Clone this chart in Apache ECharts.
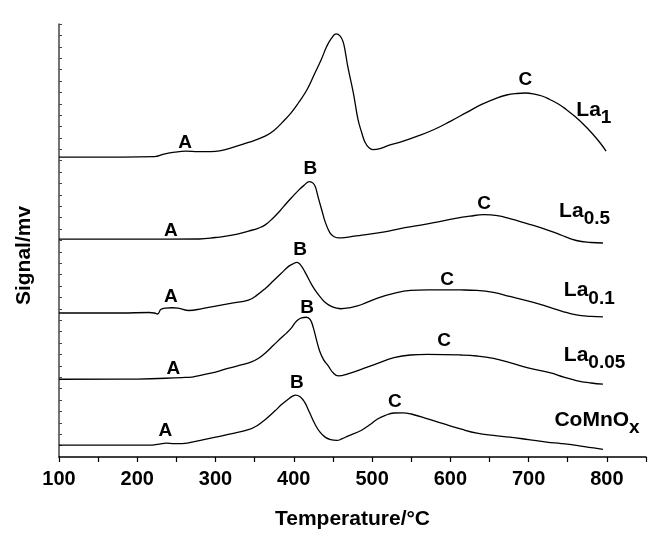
<!DOCTYPE html>
<html style="height: 100%">
<head>
    <meta charset="utf-8">
</head>
<body style="height: 100%; margin: 0; background: #fff">
    <div id="container" style="width: 649px; height: 535px"></div>
    <script src="https://cdn.jsdelivr.net/npm/echarts@6.0.0/dist/echarts.min.js"></script>
    <script>
        // TPR curves, signal in arbitrary units (curves offset vertically)
        const la1 = [
            [100, 302], [180, 302], [222, 302.5], [234, 305], [248, 307], [262, 308], [278, 307.5],
            [294, 307.5], [308, 308.7], [321, 311.5], [342, 316.7], [364, 323.3], [375, 329],
            [385, 336.7], [396, 346], [406, 356.7], [417, 370], [427, 386.7], [435, 400],
            [442, 413.3], [448, 421.5], [454, 426], [459, 424], [463, 418], [466, 407], [469, 393],
            [476, 367], [482, 340], [487, 326], [491, 317], [496, 311.5], [501, 309.5], [510, 310.5],
            [522, 314], [536, 317], [558, 323], [580, 330], [600, 338], [621, 347], [640, 355],
            [660, 361.7], [672, 364.5], [685, 366], [696, 366.5], [706, 365.7], [717, 363.5],
            [727, 360], [738, 355.5], [748, 350], [759, 343], [770, 335], [781, 326], [791, 316.7],
            [799, 308]
        ];
        const la05 = [
            [100, 219.3], [200, 219.3], [279, 219.5], [300, 221], [321, 223.3], [342, 227.5],
            [355, 230.5], [364, 234], [374, 241], [382, 247.5], [389, 254], [397, 261], [406, 268.5],
            [413, 273.5], [420, 277.3], [425, 275.5], [428, 271], [431, 262], [436, 248], [440, 237],
            [446, 226], [451, 222], [457, 220.7], [470, 221.5], [487, 223.5], [516, 226.7],
            [536, 230], [558, 233], [579, 236], [605, 240], [625, 242.5], [643, 244], [660, 243],
            [676, 240], [698, 235], [719, 230], [740, 224], [761, 218], [780, 216], [795, 215.5]
        ];
        const la01 = [
            [100, 145], [180, 145], [215, 145.5], [222, 145], [226, 144], [230, 148.5], [236, 150],
            [245, 150.3], [252, 150], [266, 147.5], [283, 149.5], [300, 152], [321, 155], [342, 158],
            [353, 163], [364, 170], [374, 177.5], [384, 185], [393, 191.7], [399, 194.5], [404, 196],
            [409, 193], [414, 186.7], [423, 173.3], [429, 166], [435, 160], [441, 155], [448, 151.7],
            [455, 149.8], [460, 149.3], [472, 150.5], [486, 153.3], [507, 160], [529, 165],
            [549, 167.7], [571, 168.3], [592, 168.3], [613, 168.2], [634, 167.7], [655, 165.7],
            [676, 161.7], [700, 157], [723, 151.7], [742, 147], [761, 143], [780, 141.5], [795, 141]
        ];
        const la005 = [
            [100, 78.3], [200, 78.5], [257, 80], [270, 80.5], [285, 83], [300, 85.5], [317, 89.5],
            [334, 93], [345, 95.5], [355, 99.5], [364, 105], [374, 112.5], [384, 120], [391, 125],
            [397, 130], [402, 135.5], [406, 138.5], [410, 140], [416, 140.7], [421, 138.3],
            [425, 130], [429, 118], [433, 106.7], [438, 98], [444, 91.7], [450, 85], [457, 81.7],
            [470, 84], [486, 88.3], [507, 94.3], [528, 100], [549, 102.7], [571, 103.3],
            [613, 102.7], [634, 101.7], [655, 99.3], [676, 95], [698, 90], [727, 85], [745, 80.5],
            [761, 77], [780, 74.5], [795, 73.3]
        ];
        const comnox = [
            [100, 12], [180, 12], [215, 12], [228, 13], [237, 14], [247, 13.5], [257, 13.5],
            [270, 15], [285, 17.5], [300, 20], [321, 23.5], [342, 27.5], [353, 31.5], [364, 38],
            [376, 46.5], [384, 52.5], [393, 58.3], [398, 61], [402, 62.3], [408, 60.7], [414, 55],
            [420, 45], [427, 33.3], [433, 25.5], [440, 20], [447, 17.5], [455, 16.7], [462, 18.5],
            [469, 21], [486, 26.7], [497, 32.5], [507, 38.3], [517, 42], [528, 44.3], [539, 44.5],
            [550, 43.3], [571, 38.5], [592, 33.3], [613, 28.3], [634, 24], [655, 21.7], [676, 20],
            [700, 17.5], [723, 15], [742, 13.5], [761, 11.7], [780, 9.5], [795, 7.7]
        ];

        const curves = [la1, la05, la01, la005, comnox];
        const curveNames = ['La1', 'La0.5', 'La0.1', 'La0.05', 'CoMnOx'];
        const curveTitles = [['La', '1'], ['La', '0.5'], ['La', '0.1'], ['La', '0.05'], ['CoMnO', 'x']];
        // where the sample name starts (temperature, signal)
        const titleAnchors = [[761, 346], [739, 244], [745, 164], [745, 99], [733, 34]];
        // peak letters: [temperature, signal, letter]
        const peakMarks = [
            [[261, 316, 'A'], [455, 438, 'B'], [696, 380, 'C']],
            [[243, 228, 'A'], [421, 290, 'B'], [643, 255, 'C']],
            [[243, 161, 'A'], [408, 209, 'B'], [596, 178, 'C']],
            [[246, 89, 'A'], [417, 150, 'B'], [592, 117, 'C']],
            [[236, 26, 'A'], [404, 75, 'B'], [529, 56, 'C']]
        ];

        const font = 'Liberation Sans, Arial, sans-serif';
        const dom = document.getElementById('container');
        const myChart = echarts.init(dom, null, { renderer: 'canvas' });

        const option = {
            animation: false,
            grid: {
                left: 59,
                right: 0,
                top: 24,
                bottom: 75
            },
            xAxis: {
                type: 'value',
                min: 100,
                max: 850,
                interval: 50,
                name: 'Temperature/°C',
                nameLocation: 'middle',
                nameGap: 52,
                nameTextStyle: {
                    color: '#000',
                    fontFamily: font,
                    fontWeight: 'bold',
                    fontSize: 21
                },
                axisLine: {
                    show: true,
                    lineStyle: { color: '#000', width: 1.5 }
                },
                axisTick: {
                    show: true,
                    inside: false,
                    length: 5,
                    lineStyle: { color: '#000', width: 1.2 }
                },
                axisLabel: {
                    color: '#000',
                    fontFamily: font,
                    fontWeight: 'bold',
                    fontSize: 20,
                    margin: 12,
                    formatter: function (v) {
                        return (v % 100 === 0 && v <= 800) ? String(v) : '';
                    }
                },
                splitLine: { show: false }
            },
            yAxis: {
                type: 'value',
                min: 0,
                max: 436,
                interval: 436 / 38,
                name: 'Signal/mv',
                nameLocation: 'middle',
                nameRotate: 90,
                nameGap: 24,
                nameTextStyle: {
                    color: '#000',
                    fontFamily: font,
                    fontWeight: 'bold',
                    fontSize: 21,
                    padding: [0, 30, 0, 0]
                },
                axisLine: {
                    show: true,
                    lineStyle: { color: '#444', width: 1.5 }
                },
                axisTick: {
                    show: true,
                    inside: true,
                    length: 3,
                    lineStyle: { color: '#444', width: 1 }
                },
                axisLabel: { show: false },
                splitLine: { show: false }
            },
            series: curves.map((curve, i) => ({
                name: curveNames[i],
                type: 'line',
                data: curve,
                showSymbol: false,
                smooth: 0.45,
                lineStyle: { color: '#000', width: 1.3 },
                silent: true,
                markPoint: {
                    symbol: 'circle',
                    symbolSize: 0,
                    silent: true,
                    data: peakMarks[i].map(p => ({
                        coord: [p[0], p[1]],
                        name: p[2],
                        label: {
                            show: true,
                            position: 'inside',
                            formatter: '{b}',
                            color: '#000',
                            fontFamily: font,
                            fontWeight: 'bold',
                            fontSize: 19
                        }
                    })).concat([{
                        coord: titleAnchors[i],
                        name: curveNames[i],
                        label: {
                            show: true,
                            position: 'right',
                            distance: 0,
                            formatter: '{m|' + curveTitles[i][0] + '}{s|' + curveTitles[i][1] + '}',
                            rich: {
                                m: {
                                    color: '#000',
                                    fontFamily: font,
                                    fontWeight: 'bold',
                                    fontSize: 21,
                                    lineHeight: 22,
                                    verticalAlign: 'top'
                                },
                                s: {
                                    color: '#000',
                                    fontFamily: font,
                                    fontWeight: 'bold',
                                    fontSize: 19,
                                    lineHeight: 28,
                                    verticalAlign: 'bottom'
                                }
                            }
                        }
                    }])
                }
            }))
        };

        myChart.setOption(option);
    </script>
</body>
</html>
